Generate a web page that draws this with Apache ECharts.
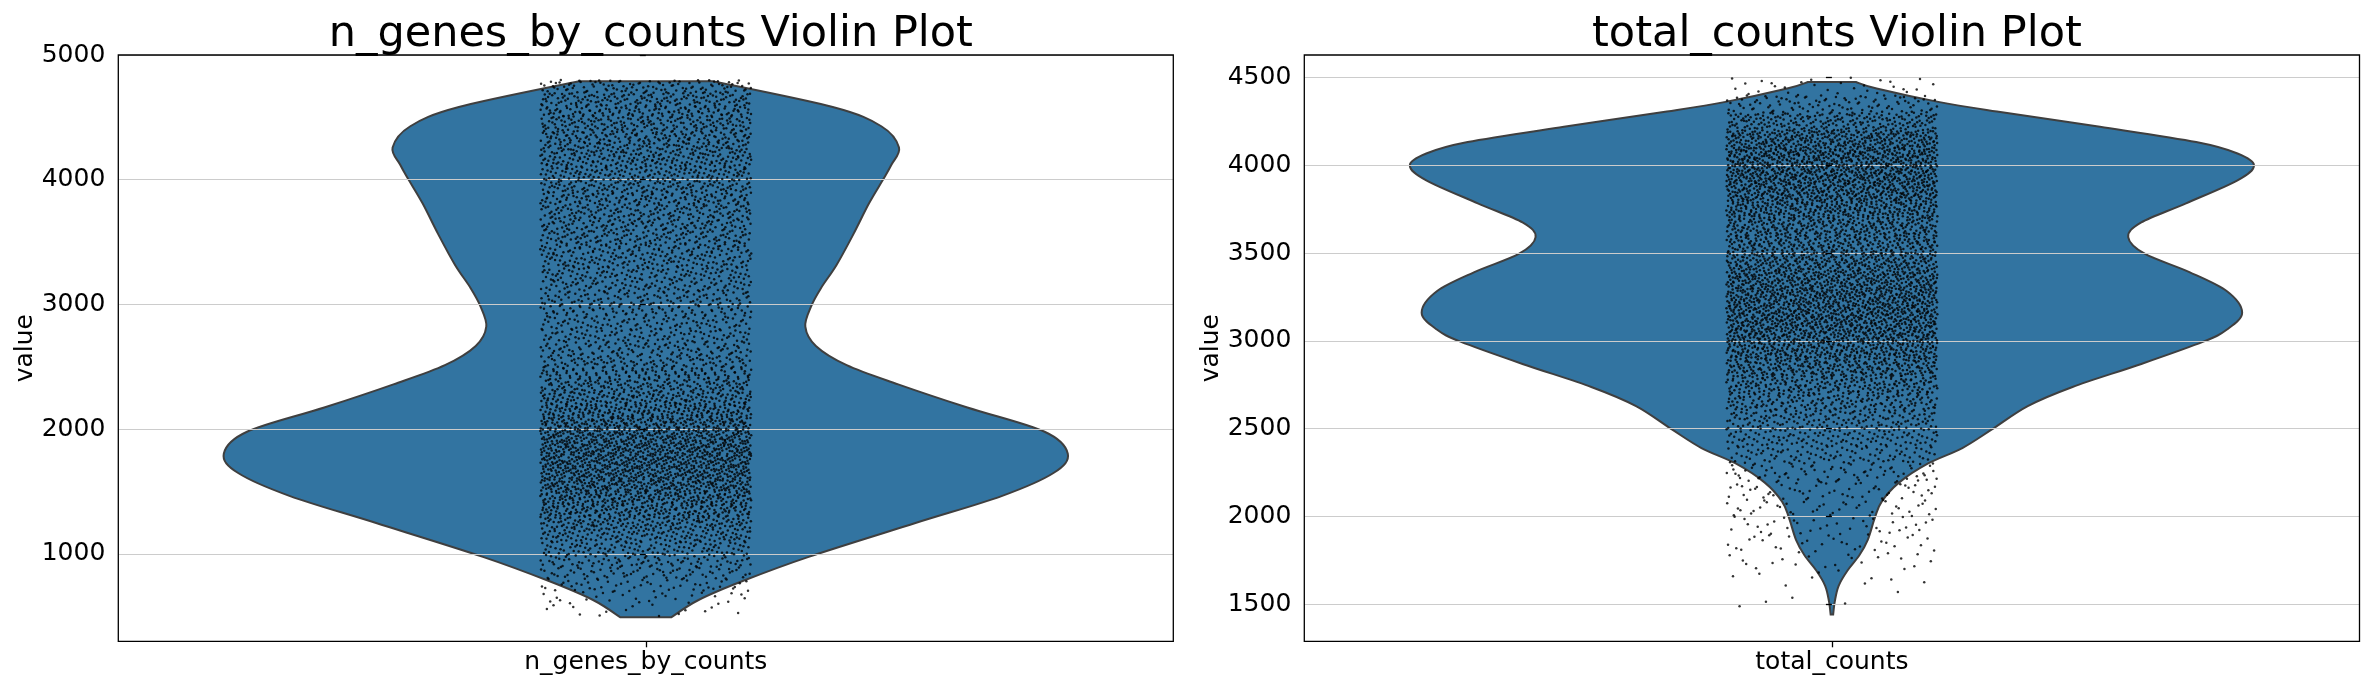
<!DOCTYPE html>
<html>
<head>
<meta charset="utf-8">
<script src="https://cdn.jsdelivr.net/npm/echarts@6/dist/echarts.min.js"></script>
<style>
html,body{margin:0;padding:0;background:#fff;}
#chart{width:2371px;height:690px;}
</style>
</head>
<body>
<div id="chart"></div>
<script>
// ---------------- data ----------------
const leftName = 'n_genes_by_counts';
const rightName = 'total_counts';
const leftTitle = 'n_genes_by_counts Violin Plot';
const rightTitle = 'total_counts Violin Plot';
const yAxisName = 'value';

// violin outline: value -> relative density (1 = widest)
const leftProfileValues  = [492, 631, 785, 977, 1248, 1464, 1649, 1804, 1980, 2174, 2360, 2514, 2668, 2823, 2987, 3131, 3317, 3564, 3811, 4000, 4120, 4258, 4429, 4583, 4790];
const leftProfileDensity = [0.060, 0.125, 0.231, 0.386, 0.639, 0.843, 0.966, 1.000, 0.945, 0.762, 0.598, 0.476, 0.403, 0.378, 0.392, 0.415, 0.452, 0.492, 0.529, 0.562, 0.582, 0.600, 0.558, 0.443, 0.158];

const rightProfileValues  = [1442, 1518, 1605, 1692, 1779, 1867, 1995, 2085, 2193, 2302, 2390, 2496, 2629, 2738, 2869, 2996, 3065, 3161, 3283, 3392, 3497, 3592, 3675, 3784, 3915, 4000, 4068, 4133, 4220, 4307, 4362, 4438, 4475];
const rightProfileDensity = [0.003, 0.007, 0.016, 0.037, 0.065, 0.085, 0.102, 0.118, 0.159, 0.228, 0.309, 0.379, 0.464, 0.570, 0.733, 0.880, 0.936, 0.972, 0.936, 0.847, 0.741, 0.702, 0.733, 0.839, 0.961, 1.000, 0.961, 0.863, 0.635, 0.391, 0.252, 0.106, 0.057];

// strip points: number of cells per 100-unit bin (bin starts)
const leftBinStart = 500, leftBinSize = 100;
const leftBinCounts = [15, 28, 50, 73, 93, 108, 133, 160, 185, 210,
                       230, 241, 249, 249, 240, 220, 195, 168, 150, 133,
                       115, 103, 96, 95, 98, 100, 105, 110, 115, 119,
                       123, 126, 130, 135, 139, 143, 148, 150, 146, 143,
                       143, 138, 106];
const rightBinStart = 1400, rightBinSize = 100;
const rightBinCounts = [1, 4, 10, 21, 30, 36, 43, 54, 73, 103,
                        133, 156, 183, 223, 270, 319, 354, 369, 361, 339,
                        300, 270, 274, 308, 350, 376, 369, 319, 209, 103, 30];

// axis ranges and tick labels
const leftYMin = 300, leftYMax = 5000;
const leftYTicks = [1000, 2000, 3000, 4000, 5000];
const rightYMin = 1289, rightYMax = 4629;
const rightYTicks = [1500, 2000, 2500, 3000, 3500, 4000, 4500];

// ---------------- rendering ----------------
const FONT = 'DejaVu Sans';
const VIOLIN_HALF = 0.4;   // half width of violin in category units
const JITTER = 0.1;        // half width of strip

function halton(i, b) {
  let f = 1, r = 0;
  while (i > 0) { f /= b; r += f * (i % b); i = Math.floor(i / b); }
  return r;
}

// places each bin's cells inside the bin / strip (low-discrepancy layout)
function stripPoints(start, size, counts) {
  const pts = [];
  let n = 7;
  counts.forEach(function (c, i) {
    for (let k = 0; k < c; k++) {
      n++;
      const u = halton(n, 2);
      const v = halton(n, 3);
      pts.push([-JITTER + 2 * JITTER * u, start + i * size + size * v]);
    }
  });
  return pts;
}

// Catmull-Rom curve through outline points -> SVG path
function curveThrough(p, startCmd) {
  let d = startCmd + p[0][0].toFixed(2) + ' ' + p[0][1].toFixed(2);
  for (let i = 0; i < p.length - 1; i++) {
    const p0 = p[Math.max(i - 1, 0)], p1 = p[i], p2 = p[i + 1], p3 = p[Math.min(i + 2, p.length - 1)];
    const c1x = p1[0] + (p2[0] - p0[0]) / 6, c1y = p1[1] + (p2[1] - p0[1]) / 6;
    const c2x = p2[0] - (p3[0] - p1[0]) / 6, c2y = p2[1] - (p3[1] - p1[1]) / 6;
    d += ' C' + c1x.toFixed(2) + ' ' + c1y.toFixed(2) + ' ' + c2x.toFixed(2) + ' ' + c2y.toFixed(2) + ' ' + p2[0].toFixed(2) + ' ' + p2[1].toFixed(2);
  }
  return d;
}

function violinRender(values, dens) {
  return function (params, api) {
    const right = [], left = [];
    for (let i = 0; i < values.length; i++) right.push(api.coord([dens[i] * VIOLIN_HALF, values[i]]));
    for (let i = values.length - 1; i >= 0; i--) left.push(api.coord([-dens[i] * VIOLIN_HALF, values[i]]));
    const d = curveThrough(right, 'M') + ' ' + curveThrough(left, 'L') + ' Z';
    return {
      type: 'path',
      shape: { pathData: d },
      style: { fill: '#3274a1', stroke: '#3f3f3f', lineWidth: 2, lineJoin: 'miter' }
    };
  };
}

const grids = [
  { left: 118.3, top: 55, width: 1055, height: 586.3, show: true, borderColor: '#000', borderWidth: 1.3, z: 10 },
  { left: 1304.3, top: 55, width: 1055.2, height: 586.3, show: true, borderColor: '#000', borderWidth: 1.3, z: 10 }
];

function catAxis(idx, name) {
  return {
    type: 'category', gridIndex: idx, data: [name], boundaryGap: true, position: 'bottom',
    axisLine: { show: false },
    axisTick: { show: true, alignWithLabel: true, length: 6, lineStyle: { color: '#000', width: 1.3 } },
    axisLabel: { fontSize: 25, color: '#000', fontFamily: FONT, margin: 9 },
    splitLine: { show: false }
  };
}
function valXAxis(idx) {
  return { type: 'value', gridIndex: idx, min: -0.5, max: 0.5, show: false };
}
function yAxis(idx, min, max, ticks) {
  return {
    type: 'value', gridIndex: idx, min: min, max: max, z: 2,
    name: yAxisName, nameLocation: 'middle', nameGap: 72,
    nameTextStyle: { fontSize: 25, color: '#000', fontFamily: FONT },
    axisLine: { show: false },
    axisTick: { show: true, length: 6, customValues: ticks, lineStyle: { color: '#000', width: 1.3 } },
    axisLabel: { fontSize: 25, color: '#000', fontFamily: FONT, margin: 13, customValues: ticks,
                 formatter: function (v) { return String(v); } },
    splitLine: { show: true, lineStyle: { color: '#cccccc', width: 1.2 } }
  };
}

const chart = echarts.init(document.getElementById('chart'), null, { renderer: 'canvas' });
chart.setOption({
  animation: false,
  backgroundColor: '#fff',
  title: [
    { text: leftTitle, left: 645.8, top: 8, textAlign: 'center',
      textStyle: { fontSize: 43, fontWeight: 'normal', color: '#000', fontFamily: FONT } },
    { text: rightTitle, left: 1831.9, top: 8, textAlign: 'center',
      textStyle: { fontSize: 43, fontWeight: 'normal', color: '#000', fontFamily: FONT } }
  ],
  grid: grids,
  xAxis: [catAxis(0, leftName), valXAxis(0), catAxis(1, rightName), valXAxis(1)],
  yAxis: [yAxis(0, leftYMin, leftYMax, leftYTicks), yAxis(1, rightYMin, rightYMax, rightYTicks)],
  series: [
    { type: 'custom', xAxisIndex: 1, yAxisIndex: 0, z: 1, silent: true,
      renderItem: violinRender(leftProfileValues, leftProfileDensity), data: [[0, leftYMin]] },
    { type: 'scatter', xAxisIndex: 1, yAxisIndex: 0, z: 3, silent: true, symbolSize: 2.5,
      itemStyle: { color: '#000' }, data: stripPoints(leftBinStart, leftBinSize, leftBinCounts) },
    { type: 'custom', xAxisIndex: 3, yAxisIndex: 1, z: 1, silent: true,
      renderItem: violinRender(rightProfileValues, rightProfileDensity), data: [[0, rightYMin]] },
    { type: 'scatter', xAxisIndex: 3, yAxisIndex: 1, z: 3, silent: true, symbolSize: 2.5,
      itemStyle: { color: '#000' }, data: stripPoints(rightBinStart, rightBinSize, rightBinCounts) }
  ]
});
</script>
</body>
</html>
